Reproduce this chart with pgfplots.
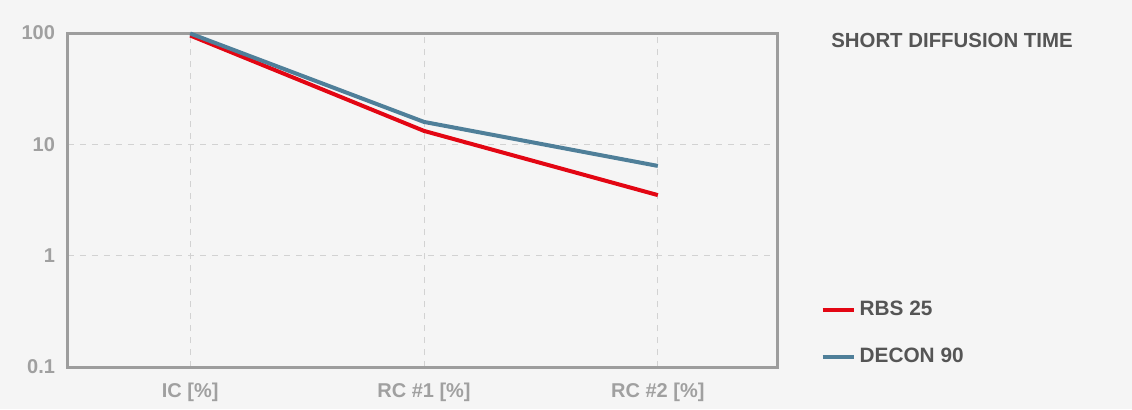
\documentclass[border=0pt]{standalone}
\usepackage{pgfplots}
\pgfplotsset{compat=1.18}
\usepackage{fontspec}
\setmainfont{Liberation Sans}
\definecolor{bg}{HTML}{F5F5F5}
\definecolor{frame}{HTML}{9D9D9D}
\definecolor{gridc}{HTML}{D2D2D2}
\definecolor{tickc}{HTML}{A0A0A0}
\definecolor{textc}{HTML}{555555}
\definecolor{rbs}{HTML}{E30613}
\definecolor{decon}{HTML}{4F7F99}
\begin{document}
\begin{tikzpicture}
\fill[bg] (0,0) rectangle (566pt,204.5pt);
\begin{axis}[
  at={(34pt,21pt)}, anchor=south west,
  scale only axis, width=354.5pt, height=167pt,
  ymode=log, ymin=0.1, ymax=100,
  xmin=-0.5225, xmax=2.5096,
  xtick={0,1,2}, xticklabels={IC [\%],RC \#1 [\%],RC \#2 [\%]},
  ytick={0.1,1,10,100}, yticklabels={0.1,1,10,100},
  major tick length=0pt, minor tick num=0,
  yminorticks=false,
  axis line style={frame, line width=1.5pt},
  grid=major,
  major grid style={gridc, dashed, line width=0.5pt},
  ticklabel style={font=\fontsize{10}{12}\selectfont\bfseries, text=tickc},
  yticklabel style={xshift=-3pt},
  xticklabel style={yshift=-4.5pt},
  legend style={at={(1.061,0.21)}, anchor=north west, draw=none, fill=none,
    font=\fontsize{10.4}{12}\selectfont\bfseries, text=textc,
    row sep=10.5pt, inner sep=0pt, cells={anchor=west}},
  legend image code/.code={\draw[#1, line width=2pt] (0pt,0pt) -- (15.5pt,0pt);},
  clip=false,
]
\addplot[rbs, line width=2pt, line join=round] coordinates {(0,95) (1,13.2) (2,3.5)};
\addlegendentry{RBS 25}
\addplot[decon, line width=2pt, line join=round] coordinates {(0,99) (1,15.9) (2,6.4)};
\addlegendentry{DECON 90}
\end{axis}
\node[font=\fontsize{10.2}{12}\selectfont\bfseries, text=textc] at (476pt,184.5pt) {SHORT DIFFUSION TIME};
\pgfresetboundingbox
\useasboundingbox (0,0) rectangle (566pt,204.5pt);
\end{tikzpicture}
\end{document}
